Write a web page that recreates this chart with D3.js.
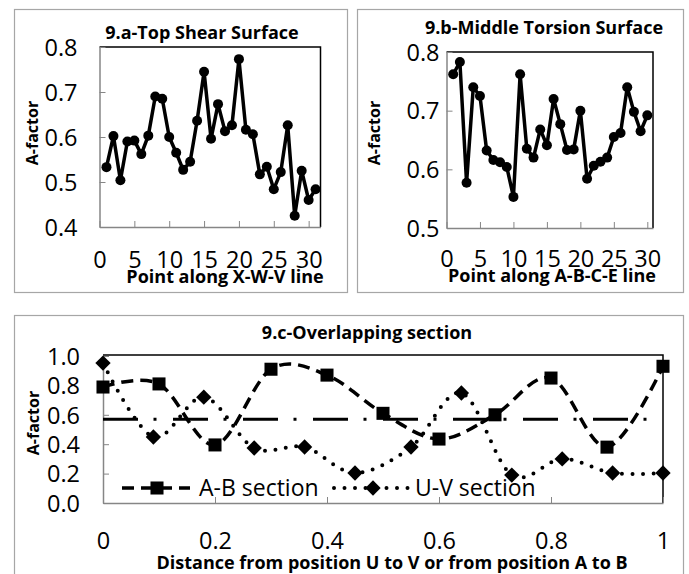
<!DOCTYPE html>
<html>
<head>
<meta charset="utf-8">
<script src="https://cdn.jsdelivr.net/npm/d3@7"></script>
<style>
body{margin:0;background:#fff;}
svg{display:block;font-family:"Open Sans",Lato,sans-serif;}
.tick line{stroke:#868686;}
.domain{stroke:#868686;}
</style>
</head>
<body>
<svg id="chart"></svg>
<script>
// 9.a top shear surface
var pointsA=[1,2,3,4,5,6,7,8,9,10,11,12,13,14,15,16,17,18,19,20,21,22,23,24,25,26,27,28,29,30,31];
var valuesA=[0.533,0.602,0.504,0.59,0.592,0.562,0.603,0.69,0.685,0.6,0.565,0.527,0.545,0.636,0.745,0.596,0.673,0.613,0.626,0.773,0.616,0.606,0.517,0.534,0.484,0.522,0.626,0.425,0.525,0.46,0.484];
// 9.b middle torsion surface
var pointsB=[1,2,3,4,5,6,7,8,9,10,11,12,13,14,15,16,17,18,19,20,21,22,23,24,25,26,27,28,29,30];
var valuesB=[0.762,0.783,0.577,0.74,0.725,0.632,0.616,0.612,0.604,0.553,0.762,0.635,0.62,0.668,0.641,0.72,0.677,0.633,0.634,0.70,0.584,0.606,0.613,0.62,0.655,0.662,0.74,0.698,0.665,0.692];
var xTicksAB=[0,5,10,15,20,25,30];
var yTicksA=[0.4,0.5,0.6,0.7,0.8];
var yTicksB=[0.5,0.6,0.7,0.8];
// 9.c overlapping section
var distAB=[0,0.1,0.2,0.3,0.4,0.5,0.6,0.7,0.8,0.9,1.0];
var valuesAB=[0.789,0.81,0.395,0.91,0.87,0.61,0.435,0.60,0.85,0.38,0.93];
var distUV=[0,0.09,0.18,0.27,0.36,0.45,0.55,0.64,0.73,0.82,0.91,1.0];
var valuesUV=[0.952,0.449,0.72,0.374,0.381,0.204,0.381,0.748,0.19,0.30,0.204,0.204];
var refLevel=0.57;
var xTicksC=[0,0.2,0.4,0.6,0.8,1];
var yTicksC=[0,0.2,0.4,0.6,0.8,1.0];
var legendNames=["A-B section","U-V section"];

var width=689,height=574;
var tickFont=23.5,titleFont=18,yTitleFont=16,legendFont=23;
var svg=d3.select("#chart").attr("width",width).attr("height",height);

// outer panel frames
function frame(x0,y0,x1,y1){
  svg.append("rect").attr("x",x0+0.5).attr("y",y0+0.5)
     .attr("width",x1-x0).attr("height",y1-y0)
     .attr("fill","none").attr("stroke","#a6a6a6").attr("stroke-width",1.2);
}
frame(14,9,347,292);
frame(357,9,683,292);
frame(14,315,683,590);

function boldText(g,x,y,txt,rot){
  var t=g.append("text").attr("dy","0.35em").attr("text-anchor","middle")
   .attr("font-weight","bold").attr("font-size",rot?yTitleFont:titleFont).text(txt);
  if(rot) t.attr("transform","translate("+x+","+y+") rotate(-90)");
  else t.attr("x",x).attr("y",y);
  return t;
}

function smallPanel(opt){
  var xScale=d3.scaleLinear().domain(opt.xDomain).range(opt.xRange);
  var yScale=d3.scaleLinear().domain(opt.yDomain).range(opt.yRange);
  var g=svg.append("g");
  // plot area top/right border
  g.append("path")
   .attr("d","M"+opt.xRange[0]+","+opt.yRange[1]+"H"+opt.xRange[1]+"V"+opt.yRange[0])
   .attr("fill","none").attr("stroke","#000").attr("stroke-width",1.5);
  var xAxis=d3.axisBottom(xScale).tickValues(opt.xTicks).tickSizeInner(-6).tickSizeOuter(0).tickFormat(d3.format("d"));
  var gx=g.append("g").attr("transform","translate(0,"+opt.yRange[0]+")").call(xAxis);
  gx.selectAll("text").attr("y",opt.xLabelOff).attr("dy","0.35em")
    .attr("font-size",tickFont).attr("font-family","Open Sans").attr("fill","#000");
  var yAxis=d3.axisLeft(yScale).tickValues(opt.yTicks).tickSizeInner(-6).tickSizeOuter(0).tickFormat(d3.format(".1f"));
  var gy=g.append("g").attr("transform","translate("+opt.xRange[0]+",0)").call(yAxis);
  gy.selectAll("text").attr("x",-opt.yLabelOff).attr("dy","0.35em")
    .attr("font-size",tickFont).attr("font-family","Open Sans").attr("fill","#000");
  gx.select(".domain").attr("stroke-width",1.5);
  gy.select(".domain").attr("stroke-width",1.5);

  var line=d3.line().x(function(d){return xScale(d[0]);}).y(function(d){return yScale(d[1]);});
  var pts=opt.xs.map(function(x,i){return [x,opt.ys[i]];});
  g.append("path").datum(pts).attr("d",line)
   .attr("fill","none").attr("stroke","#000").attr("stroke-width",3.5).attr("stroke-linejoin","round");
  g.selectAll("circle").data(pts).enter().append("circle")
   .attr("cx",function(d){return xScale(d[0]);})
   .attr("cy",function(d){return yScale(d[1]);})
   .attr("r",5).attr("fill","#000");

  boldText(g,opt.titlePos[0],opt.titlePos[1],opt.title);
  boldText(g,opt.xTitlePos[0],opt.xTitlePos[1],opt.xTitle);
  boldText(g,opt.yTitlePos[0],opt.yTitlePos[1],"A-factor",true);
}

smallPanel({
  xDomain:[0,31.7],xRange:[99.5,320.5],yDomain:[0.4,0.8],yRange:[227,47],
  xTicks:xTicksAB,yTicks:yTicksA,xs:pointsA,ys:valuesA,
  xLabelOff:33,yLabelOff:22,
  title:"9.a-Top Shear Surface",titlePos:[202,33],
  xTitle:"Point along X-W-V line",xTitlePos:[225,277],yTitlePos:[32,133]
});
smallPanel({
  xDomain:[0,30.85],xRange:[446.5,653],yDomain:[0.5,0.8],yRange:[228,52],
  xTicks:xTicksAB,yTicks:yTicksB,xs:pointsB,ys:valuesB,
  xLabelOff:31,yLabelOff:7,
  title:"9.b-Middle Torsion Surface",titlePos:[544,28],
  xTitle:"Point along A-B-C-E line",xTitlePos:[552,276],yTitlePos:[374,133]
});

// 9.c overlapping section
var xC=d3.scaleLinear().domain([0,1]).range([103,663]);
var yC=d3.scaleLinear().domain([0,1]).range([503,356]);
var gc=svg.append("g");
gc.append("path").attr("d","M103,355H663V503")
  .attr("fill","none").attr("stroke","#000").attr("stroke-width",1.5);
var gxC=gc.append("g").attr("transform","translate(0,503)")
  .call(d3.axisBottom(xC).tickValues(xTicksC).tickSizeInner(-6).tickSizeOuter(0).tickFormat(function(d){return String(d);}));
gxC.selectAll("text").attr("y",38).attr("dy","0.35em").attr("font-size",tickFont).attr("font-family","Open Sans").attr("fill","#000");
var gyC=gc.append("g").attr("transform","translate(103,0)")
  .call(d3.axisLeft(yC).tickValues(yTicksC).tickSizeInner(-6).tickSizeOuter(0).tickFormat(d3.format(".1f")));
gyC.selectAll("text").attr("x",-23).attr("dy","0.35em").attr("font-size",tickFont).attr("font-family","Open Sans").attr("fill","#000");
gxC.select(".domain").attr("stroke-width",1.5);
gyC.select(".domain").attr("stroke-width",1.5);

// reference level line
gc.append("line").attr("x1",xC(0)).attr("x2",xC(1)).attr("y1",yC(refLevel)).attr("y2",yC(refLevel))
  .attr("stroke","#000").attr("stroke-width",3).attr("stroke-dasharray","35,15.5,3,16.5");

var smooth=d3.line().curve(d3.curveCardinal.tension(0))
  .x(function(d){return xC(d[0]);}).y(function(d){return yC(d[1]);});
var ptsAB=distAB.map(function(x,i){return [x,valuesAB[i]];});
var ptsUV=distUV.map(function(x,i){return [x,valuesUV[i]];});
gc.append("path").datum(ptsAB).attr("d",smooth).attr("fill","none")
  .attr("stroke","#000").attr("stroke-width",3.5).attr("stroke-dasharray","12,7");
gc.append("path").datum(ptsUV).attr("d",smooth).attr("fill","none")
  .attr("stroke","#000").attr("stroke-width",4).attr("stroke-linecap","round").attr("stroke-dasharray","0,10.5");
var square=d3.symbol().type(d3.symbolSquare).size(170);
var diamond=d3.symbol().type(d3.symbolDiamond2).size(150);
gc.selectAll(".sq").data(ptsAB).enter().append("path").attr("class","sq")
  .attr("d",square).attr("fill","#000")
  .attr("transform",function(d){return "translate("+xC(d[0])+","+yC(d[1])+")";});
gc.selectAll(".dm").data(ptsUV).enter().append("path").attr("class","dm")
  .attr("d",diamond).attr("fill","#000")
  .attr("transform",function(d){return "translate("+xC(d[0])+","+yC(d[1])+")";});

// legend
var lg=gc.append("g");
lg.append("line").attr("x1",122).attr("x2",190).attr("y1",488).attr("y2",488)
  .attr("stroke","#000").attr("stroke-width",3.5).attr("stroke-dasharray","12,7");
lg.append("path").attr("d",square).attr("transform","translate(157,488)").attr("fill","#000");
lg.append("text").attr("x",199).attr("y",488).attr("dy","0.35em").attr("font-size",legendFont).text(legendNames[0]);
lg.append("line").attr("x1",334).attr("x2",410).attr("y1",488).attr("y2",488)
  .attr("stroke","#000").attr("stroke-width",4).attr("stroke-linecap","round").attr("stroke-dasharray","0,10.5");
lg.append("path").attr("d",diamond).attr("transform","translate(373,488)").attr("fill","#000");
lg.append("text").attr("x",415).attr("y",488).attr("dy","0.35em").attr("font-size",legendFont).text(legendNames[1]);

boldText(gc,367,333,"9.c-Overlapping section");
boldText(gc,392,563,"Distance from position U to V or from position A to B");
boldText(gc,33,423,"A-factor",true);
</script>
</body>
</html>
